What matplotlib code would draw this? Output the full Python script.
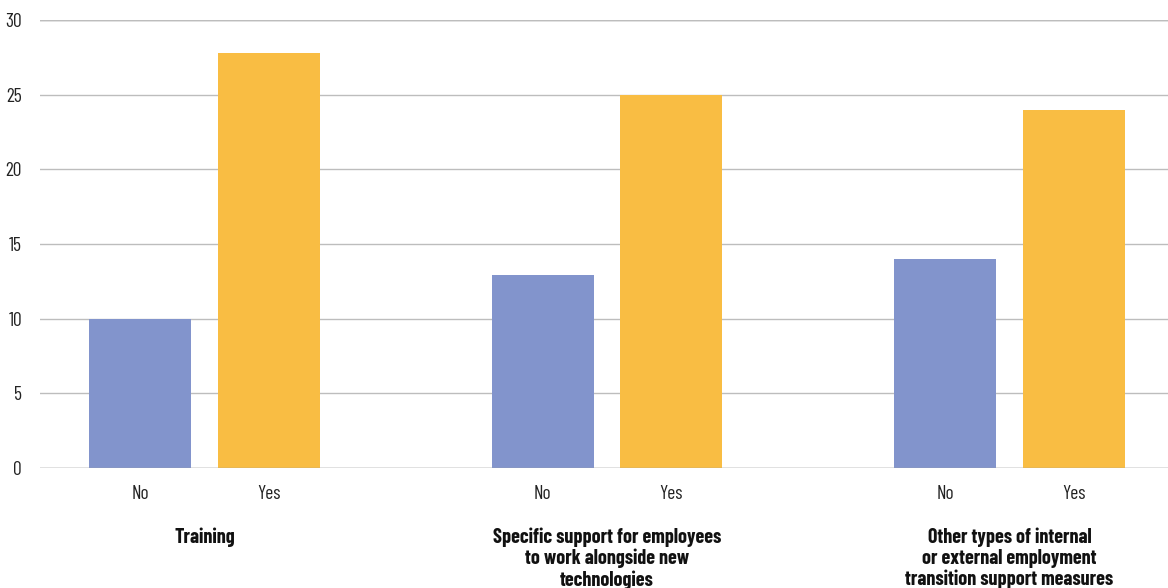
import matplotlib
matplotlib.use("Agg")
import matplotlib.pyplot as plt
import matplotlib.transforms as mtransforms
import numpy as np

# Share of respondents, by measure and answer
groups = ["Training",
          "Specific support for employees\nto work alongside new\ntechnologies",
          "Other types of internal\nor external employment\ntransition support measures"]
answers = ["No", "Yes"]
no_values = [10.0, 12.9, 14.0]
yes_values = [27.8, 25.0, 24.0]

blue = "#8294cc"
yellow = "#f9bd43"
font = ["Barlow Condensed", "DejaVu Sans"]
plt.rcParams["font.family"] = font

fig = plt.figure(figsize=(11.68, 5.88), dpi=100)
ax = fig.add_axes([40 / 1168, 120 / 588, 1128 / 1168, 448 / 588])

x = np.arange(len(groups))
offset = 0.16
width = 0.2534
ax.bar(x - offset, no_values, width, color=blue, zorder=2)
ax.bar(x + offset, yes_values, width, color=yellow, zorder=2)

ax.set_ylim(0, 30)
ax.set_xlim(-0.4087, 2.394)
ax.set_yticks(range(0, 31, 5))
ax.grid(axis="y", color="#bdbdbd", linewidth=1, zorder=0)
ax.axhline(30, color="#9c9c9c", linewidth=1, zorder=1)
ax.axhline(0, color="#a0a0a0", linewidth=1, zorder=3)

for side in ["top", "right", "left", "bottom"]:
    ax.spines[side].set_visible(False)

ticks = np.concatenate([x - offset, x + offset])
ax.set_xticks(ticks)
ax.set_xticklabels([answers[0]] * len(x) + [answers[1]] * len(x))
ax.tick_params(axis="x", length=0, pad=12, labelsize=14, labelcolor="#222222")
ax.tick_params(axis="y", length=0, pad=13, labelsize=14, labelcolor="#222222")

# Measure names under each pair of bars
trans = mtransforms.blended_transform_factory(ax.transData, ax.transAxes)
for xi, name in zip(x, groups):
    ax.text(xi, -0.133, name, transform=trans, ha="center", va="top",
            fontsize=14.5, fontweight="bold", color="#111111", linespacing=1.12)

fig.savefig("out.png")
